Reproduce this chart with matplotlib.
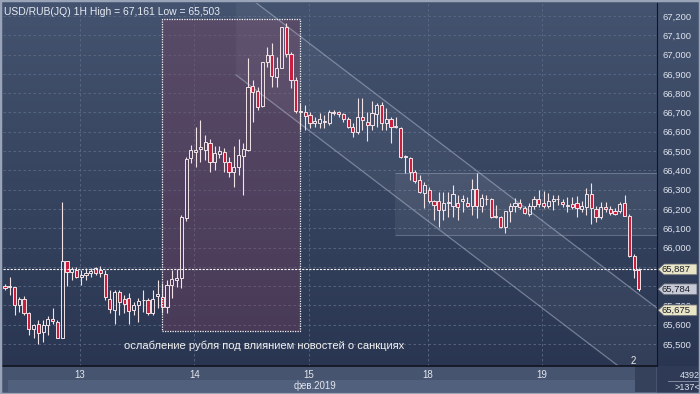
import numpy as np
import matplotlib.pyplot as plt
from matplotlib.patches import Rectangle, Polygon
from matplotlib.lines import Line2D
from matplotlib.colors import LinearSegmentedColormap
from matplotlib.ticker import FuncFormatter
import matplotlib.transforms as mtransforms

plt.rcParams['font.family'] = ['Liberation Sans', 'DejaVu Sans']

# hourly candles USD/RUB, 12-19 Feb 2019
opens = [65800, 65795, 65795, 65703, 65734, 65660, 65579, 65603, 65561, 65600,
         65629, 65617, 65530, 65928, 65876, 65883, 65846, 65858, 65868, 65893,
         65885, 65863, 65733, 65677, 65772, 65734, 65738, 65677, 65705, 65726,
         65729, 65660, 65747, 65746, 65694, 65807, 65833, 65841, 66152, 66463,
         66494, 66511, 66506, 66544, 66445, 66484, 66497, 66445, 66389, 66419,
         66475, 66506, 66839, 66811, 66734, 66963, 66998, 66886, 66929, 67141,
         67002, 66868, 66709, 66704, 66687, 66647, 66647, 66653, 66647, 66696,
         66701, 66691, 66665, 66627, 66598, 66675, 66653, 66633, 66692, 66739,
         66644, 66665, 66627, 66618, 66471, 66463, 66389, 66350, 66282, 66298,
         66243, 66243, 66195, 66230, 66216, 66233, 66243, 66230, 66217, 66302,
         66216, 66250, 66250, 66160, 66160, 66105, 66191, 66216, 66230, 66204,
         66174, 66216, 66250, 66230, 66216, 66243, 66250, 66238, 66216, 66226,
         66230, 66199, 66209, 66278, 66199, 66157, 66209, 66199, 66191, 66191,
         66230, 66164, 65957, 65884]
highs = [65810, 65846, 65798, 65746, 65750, 65665, 65605, 65625, 65625, 65643,
         65686, 65625, 66238, 65928, 65897, 65897, 65883, 65893, 65893, 65897,
         65905, 65885, 65781, 65781, 65781, 65755, 65764, 65720, 65738, 65781,
         65738, 65781, 65833, 65815, 65833, 65884, 65888, 66169, 66471, 66532,
         66627, 66661, 66584, 66560, 66524, 66524, 66515, 66471, 66524, 66561,
         66544, 66981, 66868, 66834, 66963, 67041, 67058, 66989, 67141, 67161,
         67015, 66886, 66748, 66739, 66704, 66678, 66696, 66687, 66713, 66713,
         66708, 66699, 66675, 66644, 66774, 66774, 66704, 66761, 66748, 66756,
         66722, 66675, 66675, 66623, 66480, 66471, 66402, 66376, 66342, 66316,
         66247, 66290, 66290, 66290, 66325, 66273, 66273, 66260, 66354, 66385,
         66278, 66273, 66256, 66221, 66164, 66191, 66233, 66256, 66250, 66216,
         66230, 66268, 66299, 66295, 66282, 66273, 66273, 66250, 66260, 66264,
         66268, 66243, 66307, 66336, 66216, 66238, 66238, 66216, 66204, 66238,
         66273, 66175, 65965, 65893]
lows = [65780, 65755, 65650, 65668, 65650, 65545, 65530, 65503, 65513, 65547,
        65605, 65530, 65530, 65800, 65833, 65841, 65807, 65833, 65850, 65858,
        65850, 65729, 65660, 65605, 65651, 65660, 65605, 65651, 65612, 65668,
        65651, 65651, 65686, 65660, 65660, 65738, 65798, 65791, 66140, 66437,
        66419, 66445, 66454, 66393, 66402, 66463, 66393, 66368, 66313, 66376,
        66273, 66500, 66653, 66713, 66727, 66937, 66834, 66834, 66929, 66989,
        66825, 66696, 66609, 66609, 66618, 66627, 66618, 66618, 66635, 66687,
        66678, 66653, 66618, 66575, 66589, 66609, 66552, 66609, 66627, 66609,
        66609, 66540, 66618, 66463, 66385, 66350, 66333, 66282, 66204, 66230,
        66143, 66109, 66143, 66160, 66160, 66143, 66186, 66212, 66169, 66152,
        66186, 66221, 66152, 66152, 66100, 66077, 66134, 66186, 66198, 66174,
        66165, 66200, 66210, 66204, 66204, 66195, 66221, 66212, 66186, 66200,
        66157, 66186, 66169, 66123, 66134, 66150, 66186, 66170, 66170, 66180,
        66164, 65953, 65841, 65777]
closes = [65790, 65800, 65703, 65734, 65663, 65579, 65597, 65556, 65597, 65629,
          65622, 65530, 65928, 65872, 65888, 65850, 65858, 65868, 65877, 65868,
          65868, 65743, 65681, 65769, 65719, 65707, 65674, 65705, 65724, 65729,
          65660, 65733, 65759, 65694, 65807, 65836, 65841, 66157, 66458, 66506,
          66506, 66520, 66549, 66445, 66489, 66499, 66445, 66393, 66416, 66480,
          66510, 66834, 66808, 66727, 66963, 66998, 66889, 66929, 67141, 67002,
          66868, 66709, 66704, 66684, 66647, 66658, 66665, 66655, 66704, 66701,
          66692, 66665, 66627, 66598, 66678, 66661, 66633, 66696, 66739, 66644,
          66665, 66623, 66625, 66471, 66469, 66389, 66347, 66290, 66324, 66243,
          66221, 66195, 66233, 66233, 66278, 66209, 66250, 66217, 66302, 66216,
          66256, 66252, 66160, 66164, 66105, 66191, 66216, 66233, 66209, 66178,
          66216, 66250, 66226, 66216, 66243, 66250, 66252, 66226, 66221, 66209,
          66204, 66216, 66278, 66204, 66160, 66209, 66199, 66178, 66174, 66226,
          66164, 65957, 65884, 65784]

day_labels = ["13", "14", "15", "18", "19"]
day_first_bar = [16, 40, 64, 89, 113]
last_price = 65887
price_tags = [65887, 65784, 65675]
title = "USD/RUB(JQ) 1H High = 67,161 Low = 65,503"
note = "ослабление рубля под влиянием новостей о санкциях"

# drawing objects
news_box = (32.9, 61.8, 65568, 67186)        # bars from/to, price low/high
zone_box = (81.8, 66066, 66385)              # bar from, price low/high
channel = (52.8, 67266, -18.8, 453, 48.5)    # bar, price, slope per bar, width, start bar

opens = np.array(opens); highs = np.array(highs)
lows = np.array(lows); closes = np.array(closes)
x = np.arange(len(closes))

W, H = 700, 394
fig = plt.figure(figsize=(7, 3.94), dpi=100)

# background gradient
bg = fig.add_axes([0, 0, 1, 1], zorder=-10)
cmap = LinearSegmentedColormap.from_list('bg', ['#44536f', '#28344f'])
bg.imshow(np.linspace(0, 1, 256).reshape(-1, 1), aspect='auto', cmap=cmap,
          extent=[0, 1, 0, 1], origin='upper')
bg.axis('off')

# bottom axis band
fig.add_artist(Rectangle((0, 0), 657 / W, 28 / H, transform=fig.transFigure,
                         fc='#46546f', ec='none', zorder=-5))
fig.add_artist(Rectangle((8 / W, 2 / H), 627 / W, 12 / H, transform=fig.transFigure,
                         fc='#51607c', ec='none', zorder=-5))
fig.add_artist(Rectangle((635 / W, 2 / H), 21 / W, 26 / H, transform=fig.transFigure,
                         fc='#35415b', ec='none', zorder=-5))
fig.add_artist(Rectangle((657 / W, 0), 43 / W, 28 / H, transform=fig.transFigure,
                         fc='#2f3b56', ec='none', zorder=-5))

ax = fig.add_axes([3 / W, 28 / H, 654 / W, 363 / H])
ax.patch.set_alpha(0)

# news rectangle
nx0, nx1, np0, np1 = news_box
ax.add_patch(Rectangle((nx0, np0), nx1 - nx0, np1 - np0, fc='#80405f', alpha=0.35,
                       ec='none', zorder=1))
ax.add_patch(Rectangle((nx0, np0), nx1 - nx0, np1 - np0, fill=False, ec='#f4f4f4',
                       lw=0.9, ls=(0, (1, 1)), zorder=5))

# grey zone
zx0, zp0, zp1 = zone_box
ax.add_patch(Rectangle((zx0, zp0), 80, zp1 - zp0, fc='white', alpha=0.06, ec='none', zorder=1))
ax.hlines([zp0, zp1], zx0, 145, color='#b8c2d4', alpha=0.35, lw=0.8, zorder=1)

# channel
cb, cp, cs, cw, cstart = channel
cx = np.array([cstart, 145])
upper = cp + cs * (cx - cb)
ax.fill_between(cx, upper - cw, upper, color='white', alpha=0.045, lw=0, zorder=1)
ax.plot(cx, upper, color='#b5bfd2', alpha=0.5, lw=0.9, zorder=1)
ax.plot(cx, upper - cw, color='#b5bfd2', alpha=0.5, lw=0.9, zorder=1)

# candles
up = closes >= opens
top = np.maximum(opens, closes)
bot = np.minimum(opens, closes)
wick = '#f3e3e7'
ax.vlines(x, top, highs, color=wick, lw=0.8, zorder=3)
ax.vlines(x, lows, bot, color=wick, lw=0.8, zorder=3)
height = np.maximum(top - bot, 4)
ax.bar(x[up], height[up], bottom=bot[up], width=0.66, facecolor='none',
       edgecolor=wick, lw=0.7, zorder=3)
ax.bar(x[~up], height[~up], bottom=bot[~up], width=0.66, facecolor='#c81f3e',
       edgecolor=wick, lw=0.7, zorder=3)

ax.axhline(last_price, color='#f4f4f4', lw=0.8, ls=(0, (2, 1.2)), zorder=4)

ax.set_xlim(-0.42, 136.8)
ax.set_ylim(65386.5, 67267)


def price_fmt(v, pos):
    # labels fully covered by the price tags are not drawn
    if min(abs(v - t) for t in price_tags) < 20:
        return ""
    return f"{int(v):,}"


ax.set_yticks(np.arange(65500, 67201, 100))
ax.yaxis.set_major_formatter(FuncFormatter(price_fmt))
ax.yaxis.tick_right()
ax.tick_params(axis='y', length=0, labelsize=6.8, labelcolor='#dde2ec', pad=4)
ax.set_xticks(np.array(day_first_bar) - 0.3)
ax.set_xticklabels(day_labels)
ax.tick_params(axis='x', length=0, labelsize=7, labelcolor='#e2e6ee', pad=3)
ax.grid(True, color='#5c6a86', ls=(0, (3, 3)), lw=0.6, zorder=0)
ax.set_axisbelow(True)
for s in ['top', 'left']:
    ax.spines[s].set_visible(False)
ax.spines['right'].set_color('#111722')
ax.spines['bottom'].set_color('#0f141e')
ax.spines['bottom'].set_linewidth(1.2)

# price tags on the right axis
trans = mtransforms.blended_transform_factory(fig.transFigure, ax.transData)
for i, p in enumerate(price_tags):
    fc = '#c6cad6' if i == 1 else '#e9e6c8'
    hh = 28
    pts = [(658 / W, p), (664 / W, p + hh), (697 / W, p + hh), (697 / W, p - hh), (664 / W, p - hh)]
    ax.add_patch(Polygon(pts, closed=True, transform=trans, fc=fc, ec='#5d6270',
                         lw=0.6, clip_on=False, zorder=10))
    ax.text(662 / W, p, f"{p:,}", transform=trans, fontsize=6.8, color='#1b1d26',
            va='center', ha='left', clip_on=False, zorder=11)

fig.text(4 / W, 1 - 12 / H, title, fontsize=7.5, color='#e8ebf2', va='center')
fig.text(124 / W, 1 - 346 / H, note, fontsize=8, color='#f2f2f2', va='center')
fig.text(633 / W, 1 - 361 / H, "2", fontsize=7, color='#e8e8e8', ha='center', va='center')
fig.text(315 / W, 1 - 386 / H, "фев.2019", fontsize=7, color='#e2e6ee', ha='center', va='center')
fig.text(690 / W, 1 - 375 / H, "4392", fontsize=6.5, color='#dde2ec', ha='center', va='center')
fig.text(687 / W, 1 - 387 / H, ">137<", fontsize=6.5, color='#dde2ec', ha='center', va='center')
fig.add_artist(Line2D([668 / W, 1], [1 - 381 / H] * 2, color='#8d98ad', lw=0.6))

fig.add_artist(Rectangle((0, 0), 1, 1, transform=fig.transFigure, fill=False,
                         ec='#9aa4b8', lw=2.5))

fig.savefig("out.png", dpi=100, facecolor=fig.get_facecolor())
